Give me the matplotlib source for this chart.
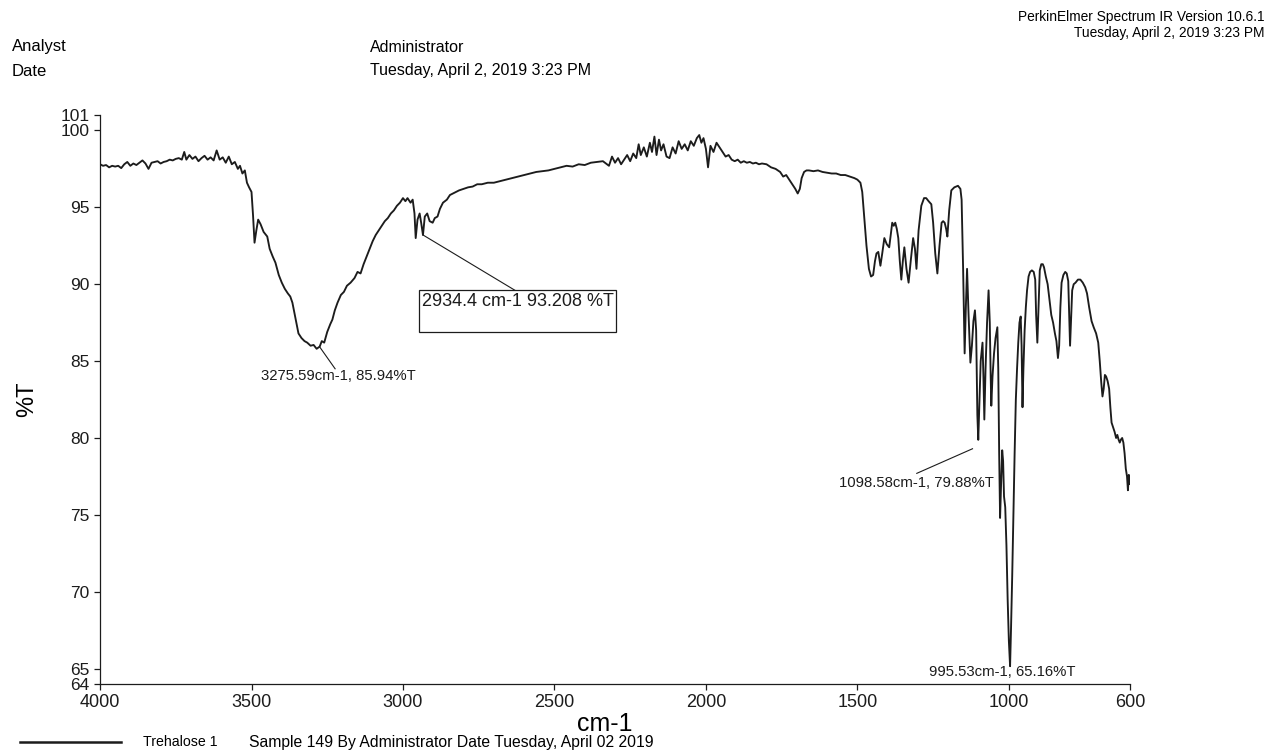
import numpy as np
import matplotlib
matplotlib.use("Agg")
import matplotlib.pyplot as plt
from matplotlib.patches import Rectangle

plt.rcParams["font.family"] = ["Liberation Sans", "DejaVu Sans"]

# spectrum: wavenumber (cm-1) and transmittance (%T)
wavenumber = [
    4000, 3990, 3980, 3970, 3960, 3950, 3940, 3930, 3920, 3910, 3900, 3890, 3880, 3870,
    3860, 3850, 3840, 3830, 3820, 3810, 3800, 3790, 3780, 3770, 3760, 3750, 3740, 3730,
    3722, 3715, 3705, 3695, 3685, 3675, 3665, 3655, 3645, 3635, 3625, 3615, 3605, 3595,
    3585, 3575, 3565, 3555, 3545, 3538, 3530, 3522, 3515, 3508, 3500, 3495, 3490, 3484,
    3478, 3470, 3460, 3448, 3440, 3430, 3421, 3410, 3400, 3390, 3380, 3372, 3365, 3355,
    3345, 3335, 3325, 3316, 3305, 3295, 3285, 3275, 3268, 3260, 3250, 3240, 3233, 3225,
    3216, 3205, 3195, 3185, 3173, 3160, 3150, 3140, 3130, 3120, 3110, 3100, 3090, 3080,
    3070, 3060, 3050, 3040, 3030, 3020, 3010, 3000, 2992, 2985, 2975, 2968, 2962, 2958,
    2952, 2945, 2940, 2934, 2928, 2920, 2912, 2902, 2895, 2886, 2878, 2868, 2855, 2845,
    2835, 2825, 2815, 2800, 2785, 2770, 2755, 2740, 2720, 2700, 2680, 2660, 2640, 2620,
    2600, 2580, 2560, 2540, 2520, 2500, 2480, 2460, 2440, 2420, 2400, 2380, 2360, 2340,
    2320, 2310, 2300, 2290, 2280, 2270, 2260, 2250, 2240, 2230, 2222, 2215, 2205, 2195,
    2185, 2178, 2170, 2163, 2155, 2148, 2140, 2130, 2120, 2110, 2100, 2090, 2080, 2070,
    2060, 2050, 2040, 2030, 2022, 2015, 2008, 2000, 1993, 1985, 1975, 1965, 1955, 1945,
    1935, 1925, 1915, 1905, 1895, 1885, 1875, 1865, 1855, 1845, 1835, 1825, 1815, 1800,
    1785, 1770, 1755, 1745, 1735, 1725, 1715, 1705, 1697, 1690, 1684, 1676, 1668, 1660,
    1645, 1630, 1615, 1600, 1585, 1570, 1555, 1540, 1525, 1510, 1500, 1490, 1484, 1478,
    1470, 1462, 1455, 1448, 1442, 1437, 1431, 1424, 1418, 1411, 1403, 1395, 1390, 1385,
    1380, 1375, 1370, 1365, 1360, 1355, 1350, 1345, 1338, 1331, 1324, 1316, 1310, 1305,
    1298, 1289, 1280, 1273, 1265, 1256, 1250, 1243, 1236, 1229, 1222, 1217, 1212, 1207,
    1203, 1197, 1190, 1180, 1168, 1160, 1156, 1151, 1146, 1142, 1138, 1133, 1127, 1122,
    1117, 1112, 1108, 1104, 1101, 1097, 1093, 1087, 1084, 1081, 1077, 1072, 1067, 1063,
    1060, 1058, 1054, 1049, 1044, 1038, 1035, 1032, 1029, 1026, 1022, 1019, 1016, 1012,
    1008, 1004, 1000, 996, 993, 989, 985, 981, 977, 973, 969, 965, 961, 958, 955, 952,
    948, 944, 940, 935, 930, 924, 918, 913, 910, 906, 902, 898, 893, 888, 884, 878,
    872, 866, 860, 854, 848, 843, 838, 834, 830, 826, 820, 814, 809, 804, 801, 798,
    795, 791, 786, 780, 772, 764, 756, 748, 742, 735, 727, 720, 712, 705, 700, 695,
    691, 687, 683, 679, 674, 669, 665, 661, 656, 651, 646, 642, 638, 634, 630, 626,
    622, 618, 614, 610, 607, 604, 602, 600,
]
transmittance = [
    97.8, 97.7, 97.75, 97.6, 97.7, 97.65, 97.7, 97.55, 97.8, 97.95, 97.7, 97.85, 97.75, 97.9,
    98.05, 97.85, 97.5, 97.9, 97.95, 98.0, 97.85, 97.95, 98.0, 98.1, 98.05, 98.15, 98.2, 98.1,
    98.6, 98.1, 98.4, 98.15, 98.3, 98.0, 98.2, 98.35, 98.1, 98.25, 98.05, 98.7, 98.1, 98.25,
    97.9, 98.3, 97.8, 97.95, 97.5, 97.7, 97.2, 97.4, 96.6, 96.3, 96.0, 94.5, 92.7, 93.5,
    94.2, 93.9, 93.4, 93.1, 92.3, 91.8, 91.4, 90.6, 90.1, 89.7, 89.4, 89.2, 88.8, 87.8,
    86.8, 86.5, 86.3, 86.2, 86.0, 86.05, 85.8, 85.94, 86.3, 86.2, 86.9, 87.4, 87.7, 88.3,
    88.8, 89.3, 89.5, 89.9, 90.1, 90.4, 90.8, 90.7, 91.3, 91.8, 92.3, 92.8, 93.2, 93.5,
    93.8, 94.1, 94.3, 94.6, 94.8, 95.1, 95.3, 95.6, 95.4, 95.6, 95.3, 95.5, 94.6, 93.0,
    94.2, 94.6, 94.0, 93.2, 94.4, 94.6, 94.1, 94.0, 94.3, 94.4, 94.9, 95.3, 95.5, 95.8,
    95.9, 96.0, 96.1, 96.2, 96.3, 96.35, 96.5, 96.5, 96.6, 96.6, 96.7, 96.8, 96.9, 97.0,
    97.1, 97.2, 97.3, 97.35, 97.4, 97.5, 97.6, 97.7, 97.65, 97.8, 97.75, 97.9, 97.95, 98.0,
    97.7, 98.3, 97.9, 98.2, 97.8, 98.1, 98.4, 98.0, 98.5, 98.2, 99.1, 98.4, 98.9, 98.3,
    99.2, 98.6, 99.6, 98.4, 99.4, 98.7, 99.1, 98.3, 98.2, 98.9, 98.5, 99.3, 98.8, 99.1,
    98.7, 99.3, 99.0, 99.5, 99.7, 99.2, 99.5, 98.8, 97.6, 99.0, 98.6, 99.2, 98.9, 98.6,
    98.3, 98.4, 98.1, 98.0, 98.1, 97.9, 98.0, 97.9, 97.95, 97.85, 97.9, 97.8, 97.85, 97.8,
    97.6, 97.5, 97.3, 97.0, 97.1, 96.8, 96.5, 96.2, 95.9, 96.2, 96.9, 97.3, 97.4, 97.4,
    97.35, 97.4, 97.3, 97.25, 97.2, 97.2, 97.1, 97.1, 97.0, 96.9, 96.8, 96.6, 96.0, 94.5,
    92.5, 91.0, 90.5, 90.6, 91.5, 92.0, 92.1, 91.2, 92.0, 93.0, 92.6, 92.4, 93.2, 94.0,
    93.8, 94.0, 93.6, 93.0, 91.5, 90.3, 91.5, 92.4, 91.0, 90.1, 91.5, 93.0, 92.3, 91.0,
    93.5, 95.1, 95.6, 95.6, 95.4, 95.2, 94.0, 92.0, 90.7, 92.5, 94.0, 94.1, 94.0, 93.6,
    93.1, 94.8, 96.1, 96.3, 96.4, 96.2, 95.5, 91.0, 85.5, 88.5, 91.0, 88.0, 84.9, 86.0,
    87.6, 88.3, 87.0, 81.5, 79.88, 82.5, 85.0, 86.2, 84.0, 81.2, 84.5, 87.5, 89.6, 87.5,
    84.0, 82.1, 84.0, 85.5, 86.5, 87.2, 84.5, 79.0, 74.8, 76.8, 79.2, 78.5, 76.2, 75.5,
    73.0, 69.5, 66.8, 65.16, 67.5, 71.0, 75.0, 79.0, 82.5, 84.5, 86.2, 87.5, 87.9, 86.0,
    82.0, 84.5, 87.0, 88.5, 89.6, 90.5, 90.8, 90.9, 90.8, 90.3, 88.0, 86.2, 88.5, 90.9,
    91.3, 91.3, 91.1, 90.5, 90.0, 89.0, 88.0, 87.5, 86.8, 86.3, 85.2, 86.0, 88.5, 90.1,
    90.6, 90.8, 90.7, 90.2, 88.0, 86.0, 87.5, 89.6, 90.0, 90.1, 90.3, 90.3, 90.1, 89.8,
    89.4, 88.5, 87.6, 87.2, 86.8, 86.2, 85.0, 83.6, 82.7, 83.2, 84.1, 84.0, 83.7, 83.2,
    82.0, 81.0, 80.7, 80.4, 80.0, 80.2, 79.9, 79.7, 79.9, 80.0, 79.7, 79.0, 78.0, 77.5,
    76.6, 77.6, 77.0, 77.4,
]

x_ticks = [4000, 3500, 3000, 2500, 2000, 1500, 1000, 600]
y_ticks = [64, 65, 70, 75, 80, 85, 90, 95, 100, 101]

# peak labels: (peak wn, peak %T, text wn, text %T, leader end wn, leader end %T, label)
peak_labels = [
    (3275.59, 85.94, 3470, 84.0, 3224, 84.5, "3275.59cm-1, 85.94%T"),
    (1120, 79.3, 1560, 77.1, 1304, 77.7, "1098.58cm-1, 79.88%T"),
]

fig = plt.figure(figsize=(12.71, 7.53), dpi=100)
ax = fig.add_axes([0.0787, 0.0916, 0.8104, 0.7556])

ax.plot(wavenumber, transmittance, color="#1c1c1c", lw=1.35)

ax.set_xlim(4000, 600)
ax.set_ylim(64, 101)
ax.set_xticks(x_ticks)
ax.set_yticks(y_ticks)
ax.tick_params(direction="out", length=4, width=0.9, colors="#1c1c1c")
ax.tick_params(axis="x", labelsize=13)
ax.tick_params(axis="y", labelsize=12.5)
ax.spines["top"].set_visible(False)
ax.spines["right"].set_visible(False)
for s in ["left", "bottom"]:
    ax.spines[s].set_linewidth(0.9)
    ax.spines[s].set_color("#1c1c1c")

ax.set_xlabel("cm-1", fontsize=18)
ax.xaxis.set_label_coords(0.49, -0.05)
ax.set_ylabel("%T", fontsize=17, labelpad=16)

# small peak labels with leader lines
for px, py, tx, ty, lx, ly, txt in peak_labels:
    ax.plot([px, lx], [py, ly], color="#1c1c1c", lw=0.8)
    ax.text(tx, ty, txt, fontsize=10.7, ha="left", va="center", color="#1c1c1c")

ax.text(1262, 64.8, "995.53cm-1, 65.16%T", fontsize=10.7, ha="left", va="center",
        color="#1c1c1c")

# boxed label for the C-H band
ax.plot([2934.4, 2630], [93.208, 89.6], color="#1c1c1c", lw=0.8)
ax.add_patch(Rectangle((2297, 86.9), 2947 - 2297, 2.7, fill=False, lw=0.9,
                       edgecolor="#1c1c1c"))
ax.text(2938, 88.85, "2934.4 cm-1 93.208 %T", fontsize=13, ha="left", va="center",
        color="#1c1c1c")

# header
W, H = 1271, 753
fig.text(12 / W, 1 - 47 / H, "Analyst", fontsize=12, va="center")
fig.text(12 / W, 1 - 71 / H, "Date", fontsize=12, va="center")
fig.text(370 / W, 1 - 48 / H, "Administrator", fontsize=11.5, va="center")
fig.text(370 / W, 1 - 71 / H, "Tuesday, April 2, 2019 3:23 PM", fontsize=11.5, va="center")
fig.text(1265 / W, 1 - 17 / H, "PerkinElmer Spectrum IR Version 10.6.1", fontsize=9.9,
         ha="right", va="center")
fig.text(1265 / W, 1 - 33 / H, "Tuesday, April 2, 2019 3:23 PM", fontsize=9.9,
         ha="right", va="center")

# legend line at the bottom
fig.add_artist(plt.Line2D([20 / W, 121 / W], [1 - 742 / H, 1 - 742 / H],
                          color="#1c1c1c", lw=1.8))
fig.text(143 / W, 1 - 742 / H, "Trehalose 1", fontsize=10.2, va="center")
fig.text(249 / W, 1 - 742 / H, "Sample 149 By Administrator Date Tuesday, April 02 2019",
         fontsize=11.3, va="center")

fig.savefig("out.png", dpi=100, facecolor="white")
